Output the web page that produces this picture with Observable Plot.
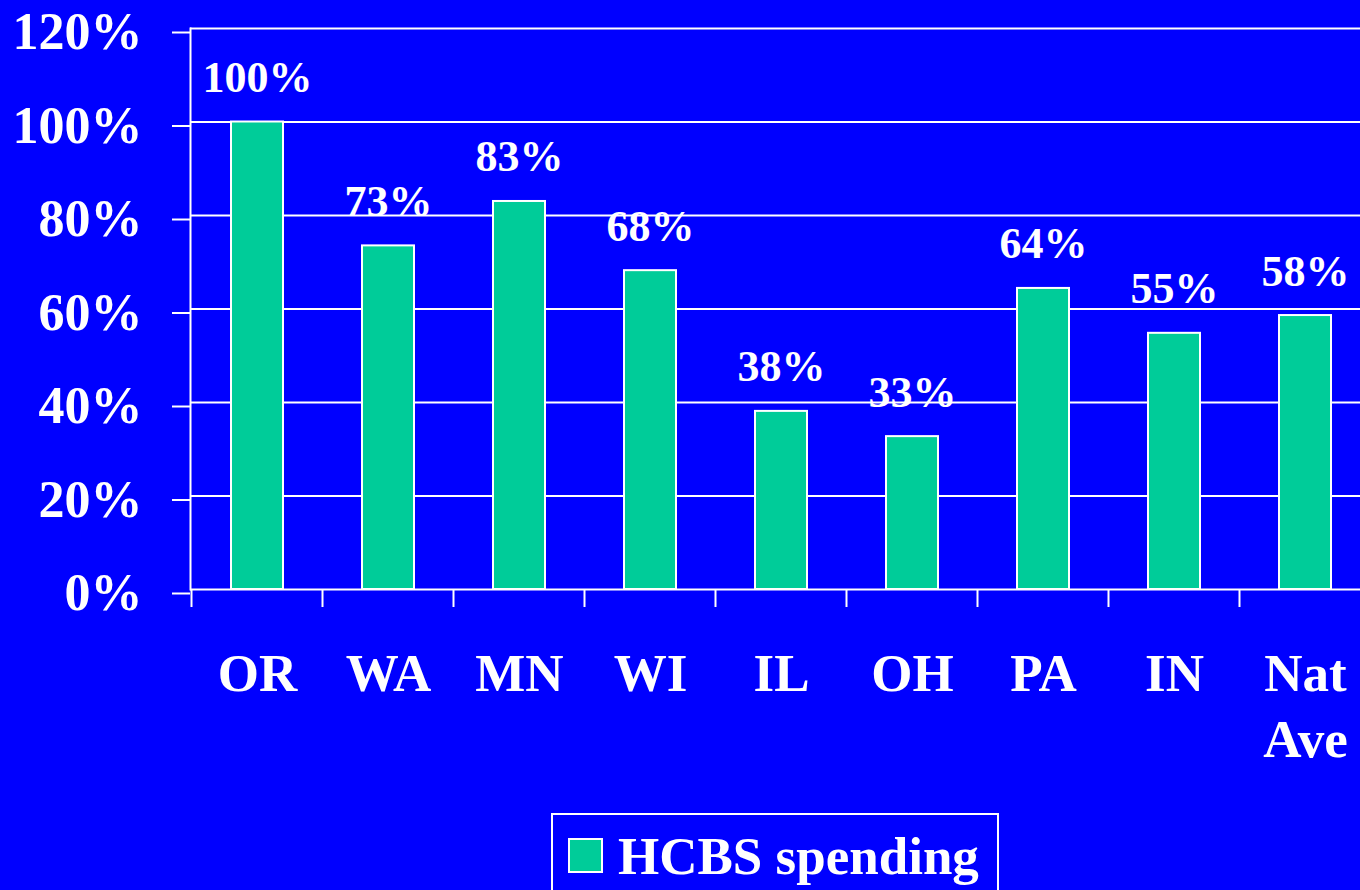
<!DOCTYPE html>
<html>
<head>
<meta charset="utf-8">
<script src="https://cdn.jsdelivr.net/npm/d3@7"></script>
<script src="https://cdn.jsdelivr.net/npm/@observablehq/plot@0.6"></script>
<style>
  html, body { margin: 0; padding: 0; background: #0000FF; overflow: hidden; width: 1360px; height: 890px; }
  #chart { width: 1373px; }
  #chart svg { display: block; max-width: none !important; }
  .legend { position: relative; margin-top: 13px; margin-left: 551px; width: 448px; height: 100px;
            border: 2px solid #fff; box-sizing: border-box; font-family: "Liberation Serif", "Times New Roman", serif; font-weight: bold; color: #fff; }
  .legend .sw { position: absolute; left: 15px; top: 23px; width: 35px; height: 35px; background: #00CC99; border: 2px solid #fff; box-sizing: border-box; }
  .legend .lab { position: absolute; left: 65px; top: 15px; font-size: 53px; line-height: 1; white-space: nowrap; }
</style>
</head>
<body>
<div id="chart"></div>
<script>
const categories = ["OR", "WA", "MN", "WI", "IL", "OH", "PA", "IN", "Nat\nAve"];
const values = [100, 73.5, 83, 68.2, 38.1, 32.7, 64.4, 54.8, 58.6];
const valueLabels = ["100%", "73%", "83%", "68%", "38%", "33%", "64%", "55%", "58%"];
const yTicks = [0, 20, 40, 60, 80, 100, 120];
const seriesName = "HCBS spending";

const data = categories.map((c, i) => ({category: c, value: values[i], label: valueLabels[i]}));

const W = 1373, H = 800, mt = 28, mb = 211, ml = 190, mr = 0;
const font = '"Liberation Serif", "Times New Roman", serif';

const plot = Plot.plot({
  width: W, height: H,
  marginTop: mt, marginBottom: mb, marginLeft: ml, marginRight: mr,
  style: {background: "#0000FF", color: "#fff", fontFamily: font, fontWeight: "bold", overflow: "visible"},
  x: {domain: categories, padding: 0.6, paddingOuter: 0.3, align: 0.5, label: null},
  y: {domain: [0, 120], label: null},
  marks: [
    Plot.gridY(yTicks, {stroke: "#fff", strokeOpacity: 1, strokeWidth: 2}),
    Plot.frame({anchor: "left", stroke: "#fff", strokeWidth: 2}),
    Plot.axisY(yTicks, {tickFormat: d => d + "%", tickSize: 18, tickPadding: 30, fontSize: 52, dy: 4, stroke: "#fff", strokeWidth: 2}),
    Plot.barY(data, {x: "category", y: "value", fill: "#00CC99", stroke: "#fff", strokeWidth: 2}),
    Plot.text(data, {x: "category", y: "value", text: "label", lineAnchor: "bottom", dy: -30, fill: "#fff", fontSize: 44, fontWeight: "bold"}),
    Plot.axisX({tickSize: 0, tickPadding: 54, fontSize: 53, lineHeight: 1.25, fontWeight: "bold"})
  ]
});

document.getElementById("chart").appendChild(plot);

// category boundary ticks below the baseline, from the library's x scale
const sx = plot.scale("x");
const sy = plot.scale("y");
const y0 = sy.apply(0);
const gap = (sx.step - sx.bandwidth) / 2;
const bounds = categories.map(c => sx.apply(c) - gap).concat([sx.apply(categories[categories.length - 1]) + sx.bandwidth + gap]);
d3.select(plot).append("g")
  .selectAll("line").data(bounds).join("line")
  .attr("x1", d => d).attr("x2", d => d)
  .attr("y1", y0).attr("y2", y0 + 18)
  .attr("stroke", "#fff").attr("stroke-width", 2);

const legend = document.createElement("div");
legend.className = "legend";
legend.innerHTML = `<div class="sw"></div><div class="lab"></div>`;
legend.querySelector(".lab").textContent = seriesName;
document.body.appendChild(legend);
</script>
</body>
</html>
